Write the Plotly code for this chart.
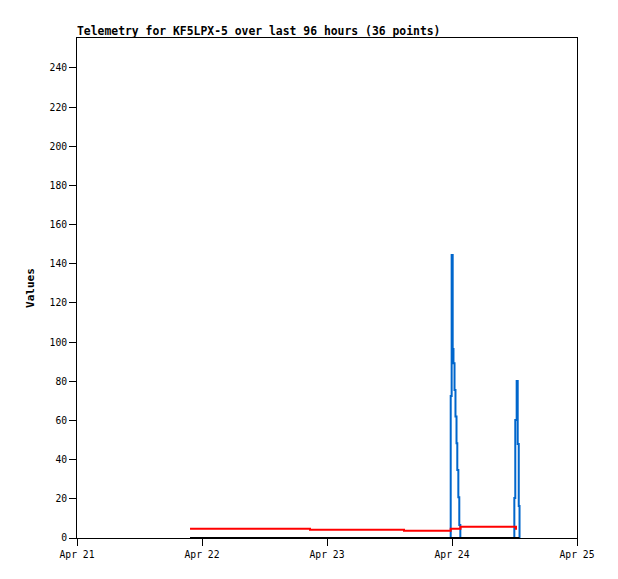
import plotly.graph_objects as go

# ---- data ----
red_times = ["2024-04-21 21:42", "2024-04-22 20:44", "2024-04-23 14:47",
             "2024-04-23 23:45", "2024-04-24 01:38", "2024-04-24 12:17"]
red_values = [4.75, 4.24, 3.73, 4.75, 5.77, 4.2]

blue_times = ["2024-04-21 21:42", "2024-04-23 23:45", "2024-04-23 23:56", "2024-04-24 00:08",
              "2024-04-24 00:17", "2024-04-24 00:29", "2024-04-24 00:40", "2024-04-24 00:52",
              "2024-04-24 01:01", "2024-04-24 01:13", "2024-04-24 01:24", "2024-04-24 01:36",
              "2024-04-24 11:58", "2024-04-24 12:09", "2024-04-24 12:25", "2024-04-24 12:37",
              "2024-04-24 12:49", "2024-04-24 12:58"]
blue_values = [0, 72.5, 144.5, 96.5, 89.2, 75.6, 62, 48.4, 34.7, 20.8, 6.6, 0,
               20.4, 60.2, 80.2, 48, 16.3, 0]

black_times = ["2024-04-21 21:42", "2024-04-24 12:58"]
black_values = [0, 0]

x_ticks = ["2024-04-21", "2024-04-22", "2024-04-23", "2024-04-24", "2024-04-25"]
x_tick_labels = ["Apr 21", "Apr 22", "Apr 23", "Apr 24", "Apr 25"]
y_ticks = list(range(0, 241, 20))

title = "Telemetry for KF5LPX-5 over last 96 hours (36 points)"

fig = go.Figure()
fig.add_trace(go.Scatter(x=blue_times, y=blue_values, mode="lines", line_shape="hv",
                         line=dict(color="#0066cc", width=2), showlegend=False))
fig.add_trace(go.Scatter(x=red_times, y=red_values, mode="lines", line_shape="hv",
                         line=dict(color="#ff0000", width=2), showlegend=False))
fig.add_trace(go.Scatter(x=black_times, y=black_values, mode="lines", line_shape="hv",
                         line=dict(color="#000000", width=2), showlegend=False))

font_mono = "DejaVu Sans Mono, Liberation Mono, monospace"
W, H = 610, 571  # page body adds an 8px offset
fig.update_layout(
    width=W, height=H,
    margin=dict(l=69, r=41, t=30, b=41),
    paper_bgcolor="white", plot_bgcolor="white",
    title=dict(text="<b>" + title + "</b>", x=0, xanchor="left", xref="paper",
               y=1 - 23/H, yanchor="middle", yref="container",
               font=dict(family=font_mono, size=11.4, color="black")),
    font=dict(family=font_mono, size=10, color="black"),
)
fig.update_xaxes(
    range=["2024-04-21", "2024-04-25"], tickvals=x_ticks, ticktext=x_tick_labels,
    showgrid=False, zeroline=False, showline=True, linecolor="black", linewidth=1,
    mirror=True, ticks="outside", ticklen=7, tickcolor="black",
    tickfont=dict(family=font_mono, size=9.7, color="black"),
)
fig.update_yaxes(
    range=[0, 255.3], tickvals=y_ticks,
    showgrid=False, zeroline=False, showline=True, linecolor="black", linewidth=1,
    mirror=True, ticks="outside", ticklen=7, tickcolor="black",
    tickfont=dict(family=font_mono, size=9.7, color="black"),
    title=dict(text="<b>Values</b>", font=dict(family=font_mono, size=11, color="black"), standoff=12),
)

fig.write_html("out.html")
